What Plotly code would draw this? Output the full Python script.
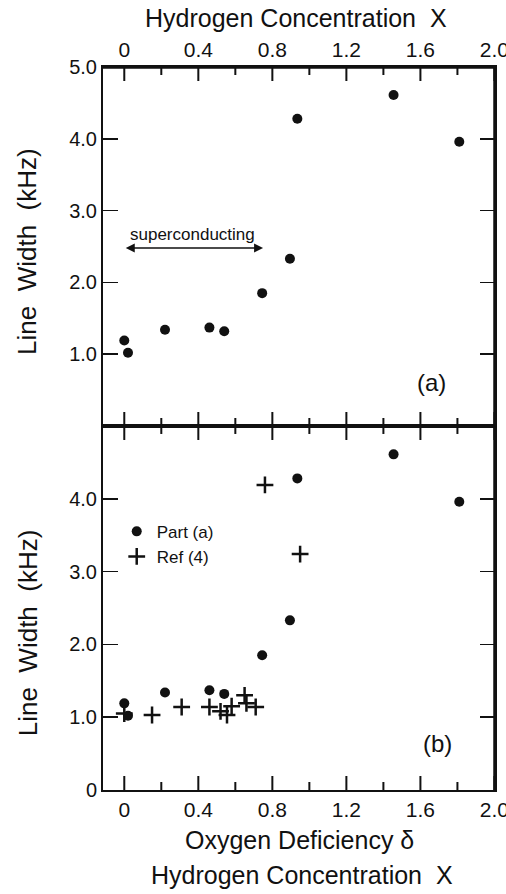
import plotly.graph_objects as go

# ---- data ----
part_a_x = [0.0, 0.02, 0.22, 0.46, 0.54, 0.745, 0.895, 0.935, 1.455, 1.81]
part_a_y = [1.19, 1.02, 1.34, 1.37, 1.32, 1.85, 2.33, 4.28, 4.61, 3.96]

ref4_x = [0.0, 0.15, 0.31, 0.46, 0.52, 0.555, 0.58, 0.65, 0.66, 0.71, 0.76, 0.95]
ref4_y = [1.05, 1.03, 1.14, 1.14, 1.08, 1.03, 1.15, 1.30, 1.19, 1.14, 4.19, 3.24]

x_tickvals = [0, 0.4, 0.8, 1.2, 1.6, 2.0]
x_ticktext = ["0", "0.4", "0.8", "1.2", "1.6", "2.0"]
x_minorvals = [0.2, 0.6, 1.0, 1.4, 1.8]
ya_tickvals = [1, 2, 3, 4, 5]
ya_ticktext = ["1.0", "2.0", "3.0", "4.0", "5.0"]
yb_tickvals = [0, 1, 2, 3, 4]
yb_ticktext = ["0", "1.0", "2.0", "3.0", "4.0"]

FONT = "Liberation Sans"
BLACK = "#111111"
XR = [-0.115, 2.003]
YR = [0, 5]
split = 0.5035
PLOT_H = 894 - 67 - 104
MAJ_PX, MIN_PX = 14, 8


def tick_segments(vals, length_units):
    """vertical tick marks at the axis tick values, on both edges of a panel"""
    xs, ys = [], []
    for t in vals:
        xs += [t, t, None, t, t, None]
        ys += [YR[0], YR[0] + length_units, None, YR[1], YR[1] - length_units, None]
    return xs, ys


fig = go.Figure()

for xa, ya, frac in (("x2", "y2", 1 - split), ("x", "y", split)):
    px_per_unit = PLOT_H * frac / (YR[1] - YR[0])
    for vals, px in ((x_tickvals, MAJ_PX), (x_minorvals, MIN_PX)):
        tx, ty = tick_segments(vals, px / px_per_unit)
        fig.add_trace(go.Scatter(x=tx, y=ty, xaxis=xa, yaxis=ya, mode="lines",
                                 line=dict(color=BLACK, width=2),
                                 showlegend=False, hoverinfo="skip"))
    fig.add_trace(go.Scatter(x=[XR[1], XR[1]], y=YR, xaxis=xa, yaxis=ya, mode="lines",
                             line=dict(color=BLACK, width=3.5), showlegend=False, hoverinfo="skip"))
fig.add_trace(go.Scatter(x=XR, y=[YR[1], YR[1]], xaxis="x2", yaxis="y2", mode="lines",
                         line=dict(color=BLACK, width=3.5), showlegend=False, hoverinfo="skip"))

# top panel (a)
fig.add_trace(go.Scatter(x=part_a_x, y=part_a_y, xaxis="x2", yaxis="y2", mode="markers",
                         marker=dict(symbol="circle", size=10, color=BLACK), showlegend=False))
# bottom panel (b)
fig.add_trace(go.Scatter(x=part_a_x, y=part_a_y, xaxis="x", yaxis="y", mode="markers",
                         name="Part (a)", marker=dict(symbol="circle", size=10, color=BLACK)))
fig.add_trace(go.Scatter(x=ref4_x, y=ref4_y, xaxis="x", yaxis="y", mode="markers",
                         name="Ref (4)",
                         marker=dict(symbol="cross-thin", size=12, color=BLACK,
                                     line=dict(color=BLACK, width=2.5))))

common_x = dict(range=XR, showline=True, linewidth=2, linecolor=BLACK, mirror="ticks",
                ticks="inside", ticklen=MAJ_PX, tickwidth=1.5, tickcolor=BLACK,
                tickmode="array", tickvals=x_tickvals, ticktext=x_ticktext,
                ticklabeloverflow="allow", automargin=False, showgrid=False, zeroline=False,
                tickfont=dict(family=FONT, size=21, color=BLACK))
common_y = dict(range=YR, showline=True, linewidth=2, linecolor=BLACK, mirror="ticks",
                ticks="inside", ticklen=15, tickwidth=1.5, tickcolor=BLACK,
                tickmode="array", automargin=False, showgrid=False, zeroline=False,
                tickfont=dict(family=FONT, size=20, color=BLACK))

fig.update_layout(
    width=506, height=894,
    margin=dict(l=103, r=11, t=67, b=104, autoexpand=False),
    paper_bgcolor="white", plot_bgcolor="white",
    hovermode=False,
    xaxis=dict(domain=[0, 1], anchor="y", side="bottom", **common_x),
    xaxis2=dict(domain=[0, 1], anchor="y2", side="top", **common_x),
    yaxis=dict(domain=[0, split], anchor="x", tickvals=yb_tickvals, ticktext=yb_ticktext, **common_y),
    yaxis2=dict(domain=[split, 1], anchor="x2", tickvals=ya_tickvals, ticktext=ya_ticktext, **common_y),
    showlegend=True,
    legend=dict(x=0.035, y=0.382, xanchor="left", yanchor="top",
                bgcolor="rgba(0,0,0,0)", font=dict(family=FONT, size=17, color=BLACK),
                tracegroupgap=0),
    font=dict(family=FONT, color=BLACK),
)

ann = []
ann.append(dict(text="Hydrogen Concentration  X", x=0.492, y=1.0678, xref="paper", yref="paper",
                showarrow=False, font=dict(size=25), xanchor="center", yanchor="middle"))
ann.append(dict(text="Oxygen Deficiency δ", x=0.5, y=-0.0692, xref="paper", yref="paper",
                showarrow=False, font=dict(size=25), xanchor="center", yanchor="middle"))
ann.append(dict(text="Hydrogen Concentration  X", x=0.508, y=-0.1176, xref="paper", yref="paper",
                showarrow=False, font=dict(size=25), xanchor="center", yanchor="middle"))
ann.append(dict(text="Line  Width  (kHz)", x=-0.194, y=0.7455, xref="paper", yref="paper",
                showarrow=False, font=dict(size=26), textangle=-90, xanchor="center", yanchor="middle"))
ann.append(dict(text="Line  Width  (kHz)", x=-0.191, y=0.217, xref="paper", yref="paper",
                showarrow=False, font=dict(size=26), textangle=-90, xanchor="center", yanchor="middle"))
ann.append(dict(text="superconducting", x=0.369, y=2.67, xref="x2", yref="y2",
                showarrow=False, font=dict(size=17), xanchor="center", yanchor="middle"))
ann.append(dict(text="", x=0.75, y=2.48, ax=0.0, ay=2.48, xref="x2", yref="y2",
                axref="x2", ayref="y2", showarrow=True, arrowhead=2, startarrowhead=2,
                arrowside="end+start", arrowsize=1.2, arrowwidth=1.5, arrowcolor=BLACK))
ann.append(dict(text="(a)", x=1.66, y=0.61, xref="x2", yref="y2", showarrow=False,
                font=dict(size=24), xanchor="center", yanchor="middle"))
ann.append(dict(text="(b)", x=1.69, y=0.645, xref="x", yref="y", showarrow=False,
                font=dict(size=24), xanchor="center", yanchor="middle"))
fig.update_layout(annotations=ann)

fig.write_html(
    "out.html",
    config={"displayModeBar": False, "staticPlot": True},
    post_script="document.body.style.margin='0';document.body.style.padding='0';"
                "document.body.style.overflow='hidden';"
                "document.documentElement.style.overflow='hidden';",
)
